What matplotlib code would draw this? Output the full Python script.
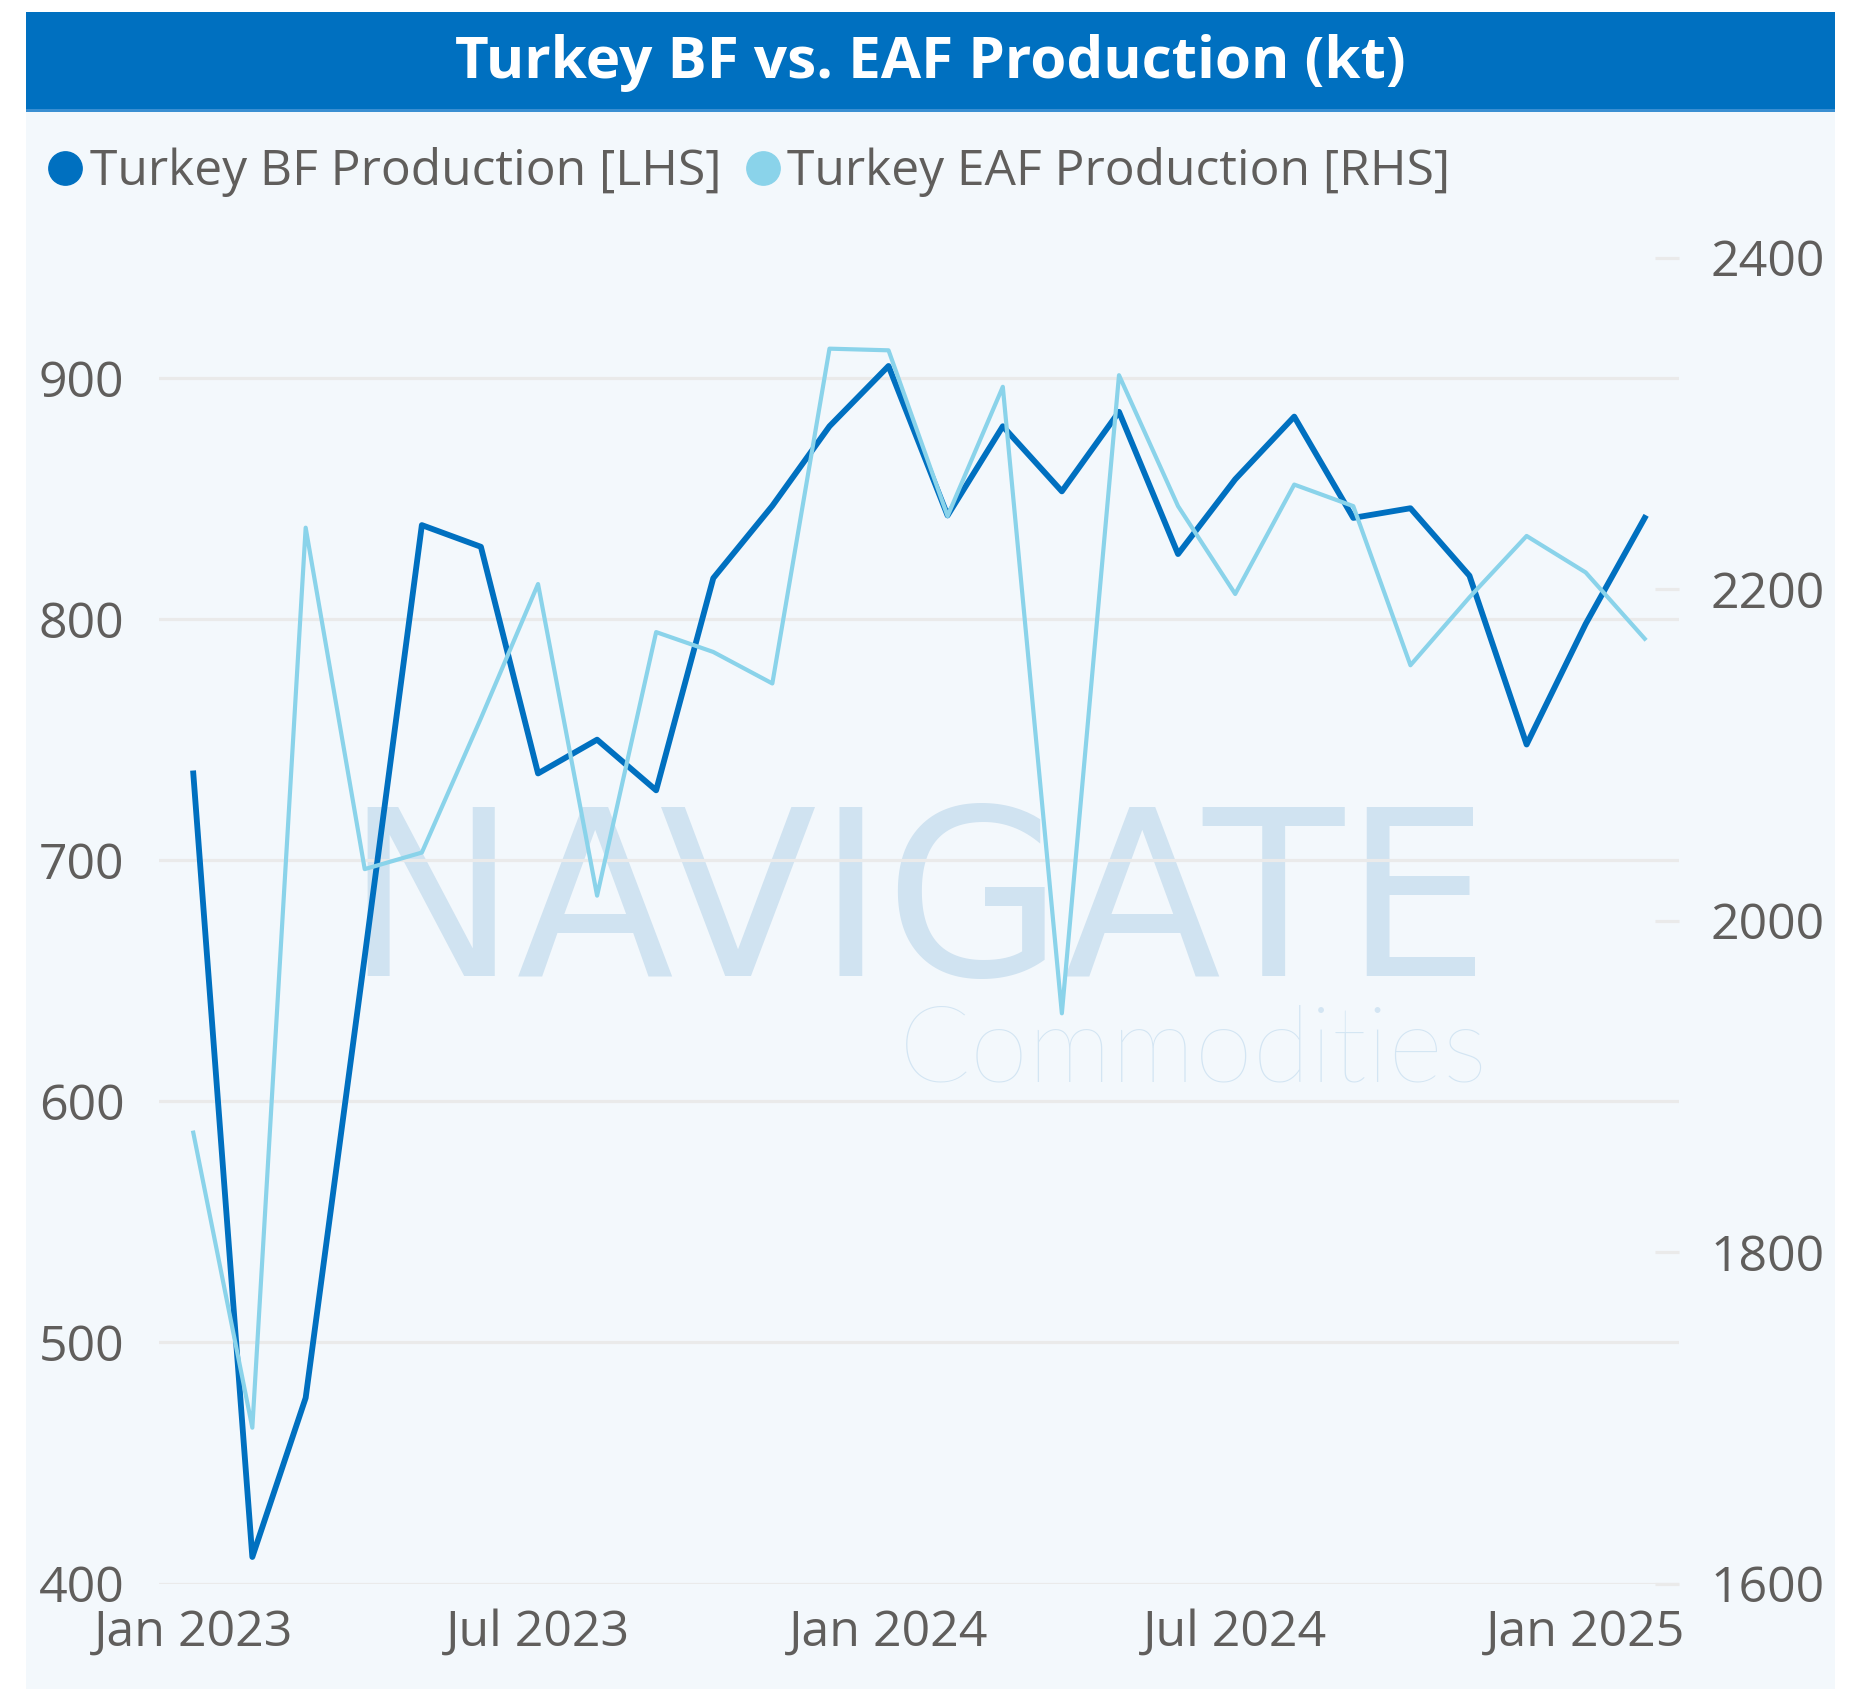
import matplotlib
matplotlib.use("Agg")
import matplotlib.pyplot as plt
from matplotlib.patches import Rectangle
from matplotlib.lines import Line2D
import pandas as pd

# ---- data ----
months = ["2023-01", "2023-02", "2023-03", "2023-04", "2023-05", "2023-06",
          "2023-07", "2023-08", "2023-09", "2023-10", "2023-11", "2023-12",
          "2024-01", "2024-02", "2024-03", "2024-04", "2024-05", "2024-06",
          "2024-07", "2024-08", "2024-09", "2024-10", "2024-11", "2024-12",
          "2025-01", "2025-02"]
bf_prod = [736, 411, 477, 660, 839, 830, 736, 750, 729, 817, 847, 880,
           905, 843, 880, 853, 886, 827, 858, 884, 842, 846, 818, 748,
           798, 842]
eaf_prod = [1872, 1694, 2237, 2031, 2041, 2122, 2203, 2015, 2174, 2162, 2143, 2345,
            2344, 2244, 2322, 1944, 2329, 2250, 2197, 2263, 2250, 2154, 2195, 2232,
            2210, 2170]
xtick_dates = ["2023-01", "2023-07", "2024-01", "2024-07", "2025-01"]
xtick_labels = ["Jan 2023", "Jul 2023", "Jan 2024", "Jul 2024", "Jan 2025"]
left_ticks = [400, 500, 600, 700, 800, 900]
right_ticks = [1600, 1800, 2000, 2200, 2400]

title = "Turkey BF vs. EAF Production (kt)"
bf_label = "Turkey BF Production [LHS]"
eaf_label = "Turkey EAF Production [RHS]"

BF_COL = "#0070C0"
EAF_COL = "#8AD3EA"
TXT_COL = "#605E5C"
GRID_COL = "#EAEAEA"
BG = "#F3F8FC"
WM_COL = "#D0E3F1"

plt.rcParams['font.family'] = ['Open Sans', 'DejaVu Sans']

W, H = 1855, 1689
fig = plt.figure(figsize=(W / 100, H / 100), dpi=100, facecolor="white")


def fx(px):
    return px / W


def fy(py):
    return 1 - py / H


# panel, banner and the thin strip between them
fig.patches.append(Rectangle((fx(26), 0), fx(1835) - fx(26), fy(112),
                             transform=fig.transFigure, facecolor=BG,
                             edgecolor="none", zorder=-10))
fig.patches.append(Rectangle((fx(26), fy(109)), fx(1835) - fx(26), fy(12) - fy(109),
                             transform=fig.transFigure, facecolor="#0070C0",
                             edgecolor="none", zorder=-10))
fig.patches.append(Rectangle((fx(26), fy(112)), fx(1835) - fx(26), fy(109) - fy(112),
                             transform=fig.transFigure, facecolor="#3A8FD2",
                             edgecolor="none", zorder=-10))

fig.text(fx(930), fy(78), title, ha="center", va="baseline", color="white",
         fontsize=42, fontweight="bold")

# legend drawn by hand
for mx, tx, col, lab in [(65, 90, BF_COL, bf_label), (763, 787, EAF_COL, eaf_label)]:
    fig.add_artist(Line2D([fx(mx)], [fy(168)], marker="o", markersize=24,
                          color=col, linestyle="none", transform=fig.transFigure))
    fig.text(fx(tx), fy(185), lab, ha="left", va="baseline", color=TXT_COL, fontsize=35.8)

# axes
ax = fig.add_axes([fx(159), fy(1583.5), fx(1679) - fx(159), (1583.5 - 257.5) / H])
ax.set_facecolor("none")
x = pd.to_datetime(months)

# watermark
ax.text(fx(917), fy(976), "NAVIGATE", transform=fig.transFigure, ha="center",
        va="baseline", fontsize=166, color=WM_COL, family="DejaVu Sans", zorder=0.1)
ax.text(fx(899), fy(1081), "Commodities", transform=fig.transFigure, ha="left",
        va="baseline", fontsize=76, color="#D3E5F3", family="Lato", fontweight="light",
        zorder=0.1)

ax.plot(x, bf_prod, color=BF_COL, lw=4.2, zorder=2)
ax.set_ylim(400, 950)
ax.set_yticks(left_ticks)
ax.set_xlim(x[0] - pd.Timedelta(days=18), x[-1] + pd.Timedelta(days=18))
ax.set_xticks(pd.to_datetime(xtick_dates))
ax.set_xticklabels(xtick_labels)
ax.grid(axis="y", color=GRID_COL, lw=2.3)
ax.set_axisbelow(True)
ax.tick_params(axis="y", length=0, pad=25, labelsize=36, labelcolor=TXT_COL)
ax.tick_params(axis="x", length=0, pad=18, labelsize=36, labelcolor=TXT_COL)

ax2 = ax.twinx()
ax2.plot(x, eaf_prod, color=EAF_COL, lw=3.0, zorder=3)
ax2.set_ylim(1600, 2400)
ax2.set_yticks(right_ticks)
ax2.tick_params(axis="y", direction="in", length=17.5, width=2.3, color=GRID_COL,
                pad=23, labelsize=36, labelcolor=TXT_COL)

for a in (ax, ax2):
    for s in a.spines.values():
        s.set_visible(False)

fig.savefig("out.png", dpi=100, facecolor="white")
